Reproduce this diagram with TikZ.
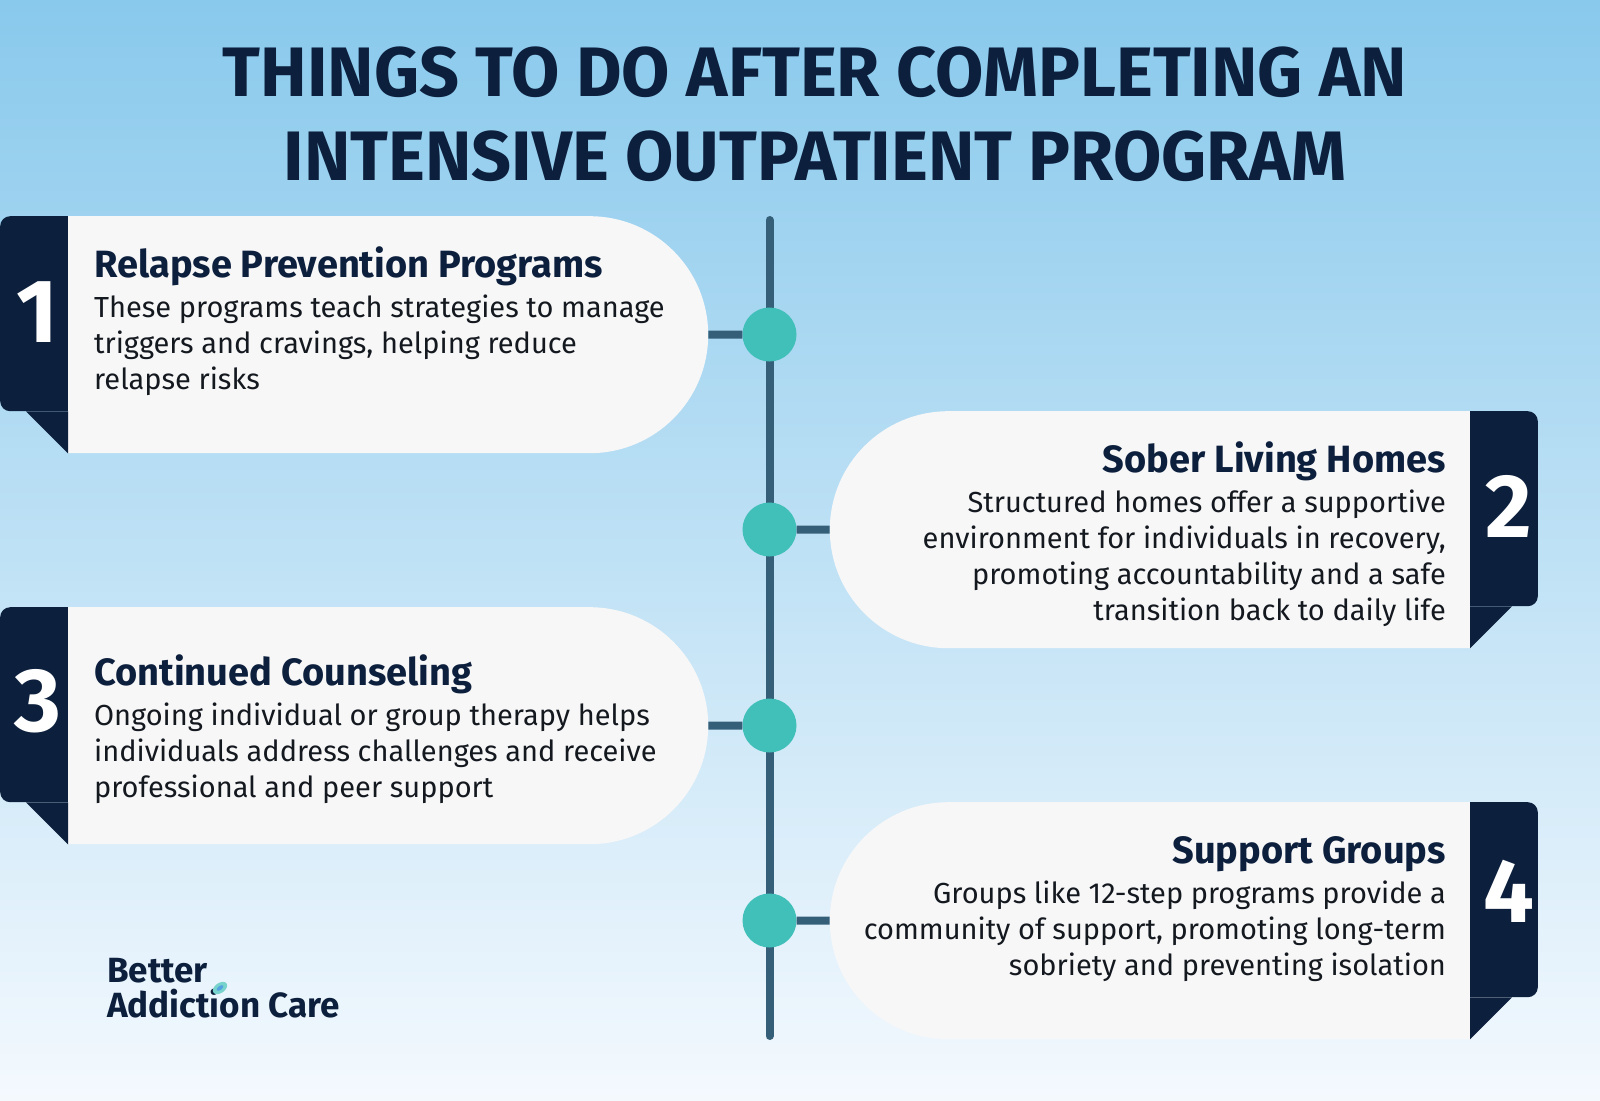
\documentclass[tikz,border=0pt]{standalone}
\usepackage{fontspec}
\setmainfont{Fira Sans}
\usetikzlibrary{positioning, shapes.misc}
\definecolor{navy}{HTML}{0C1F3C}
\definecolor{spine}{HTML}{355F78}
\definecolor{teal}{HTML}{40C0B8}
\definecolor{paper}{HTML}{F7F7F8}
\definecolor{ink}{HTML}{14181F}
\definecolor{skytop}{RGB}{137,201,236}
\definecolor{skyend}{RGB}{244,249,254}
\tikzset{
      left card/.style={
		rounded rectangle, rounded rectangle west arc=none,
		fill=paper,
		minimum width=640pt,
		minimum height=237pt,
		inner sep=0pt,
		anchor=north west,
	  },
      right card/.style={
		left card, rounded rectangle west arc=convex, rounded rectangle east arc=none,
		anchor=north east,
	  },
      tab box/.style={
		rectangle, rounded corners=10pt,
		fill=navy,
		minimum width=90pt,
		minimum height=195pt,
		inner sep=0pt,
	  },
      spine line/.style={
		draw=spine, line width=8pt,
	  },
      dot/.style={
		circle, fill=teal, minimum size=54pt, inner sep=0pt,
	  },
      number/.style={
		text=white, inner sep=0pt, font=\fontsize{90}{90}\selectfont\bfseries,
	  },
      heading/.style={
		text=navy, inner sep=0pt, font=\fontsize{38}{38}\selectfont\bfseries,
	  },
      body/.style={
		text=ink, inner sep=0pt, font=\fontsize{29}{36}\selectfont,
	  },
      headline/.style={
		text=navy, inner sep=0pt, align=center, font=\fontsize{70}{84}\selectfont\bfseries,
	  },
      logo/.style={
		text=navy, inner sep=0pt, font=\fontsize{35}{35}\selectfont\bfseries,
	  },
  	}
\begin{document}
\begin{tikzpicture}[x=1pt, y=-1pt]
    \useasboundingbox (0,0) rectangle (1600,1100);
    \shade [top color=skytop, bottom color=skyend] (0,0) rectangle (1600,1100);

    \node [anchor=base, headline] (title) at (815,180) {THINGS TO DO AFTER COMPLETING AN\\INTENSIVE OUTPATIENT PROGRAM};

    \coordinate (top) at (769.5,220);
    \coordinate (bottom) at (769.5,1036);
    \draw [spine line, line cap=round] (top) -- (bottom);

    \node [dot] (dot1) at (769.5,334.5) {};
    \node [dot] (dot2) at (769.5,529.5) {};
    \node [dot] (dot3) at (769.5,725.5) {};
    \node [dot] (dot4) at (769.5,920.5) {};

    \node [tab box, anchor=north west] (tab1) at (0,216) {};
    \node [tab box, anchor=north east] (tab2) at (1538,411) {};
    \node [tab box, anchor=north west] (tab3) at (0,607) {};
    \node [tab box, anchor=north east] (tab4) at (1538,802) {};

    \node [left card] (card1) at (68,216) {};
    \node [right card] (card2) at (1470,411) {};
    \node [left card] (card3) at (68,607) {};
    \node [right card] (card4) at (1470,802) {};

    \draw [spine line] (card1.east) -- (dot1);
    \draw [spine line] (card2.west) -- (dot2);
    \draw [spine line] (card3.east) -- (dot3);
    \draw [spine line] (card4.west) -- (dot4);

    \fill [navy] (card1.south west) -- ++(0,-42) -- ++(-42,0) -- cycle;
    \fill [navy] (card2.south east) -- ++(0,-42) -- ++(42,0) -- cycle;
    \fill [navy] (card3.south west) -- ++(0,-42) -- ++(-42,0) -- cycle;
    \fill [navy] (card4.south east) -- ++(0,-42) -- ++(42,0) -- cycle;

    \node [number] (num1) at (37,312) {1};
    \node [number] (num2) at (1509,506) {2};
    \node [number] (num3) at (38,701) {3};
    \node [number] (num4) at (1509,891) {4};

    \node [heading, anchor=base west] (head1) at (94,277) {Relapse Prevention Programs};
    \node [body, align=left, below right=9pt and -0.1pt of head1.south west] (text1) {These programs teach strategies to manage\\triggers and cravings, helping reduce\\relapse risks};

    \node [heading, anchor=base east] (head2) at (1446,472) {Sober Living Homes};
    \node [body, align=right, below left=9pt and -0.1pt of head2.south east] (text2) {Structured homes offer a supportive\\environment for individuals in recovery,\\promoting accountability and a safe\\transition back to daily life};

    \node [heading, anchor=base west] (head3) at (94,685) {Continued Counseling};
    \node [body, align=left, below right=9pt and -0.1pt of head3.south west] (text3) {Ongoing individual or group therapy helps\\individuals address challenges and receive\\professional and peer support};

    \node [heading, anchor=base east] (head4) at (1446,863) {Support Groups};
    \node [body, align=right, below left=9pt and -0.1pt of head4.south east] (text4) {Groups like 12-step programs provide a\\community of support, promoting long-term\\sobriety and preventing isolation};

    \node [logo, anchor=base west] (logo1) at (107,982) {Better};
    \node [logo, anchor=base west] (logo2) at (107,1017) {Addiction Care};
    \fill [teal!70, rotate around={35:(220,988)}] (220,988) ellipse (8pt and 5pt);
    \fill [cyan!70!blue!70, rotate around={35:(220,988)}] (220,988) ellipse (4pt and 2pt);
  \end{tikzpicture}
\end{document}
